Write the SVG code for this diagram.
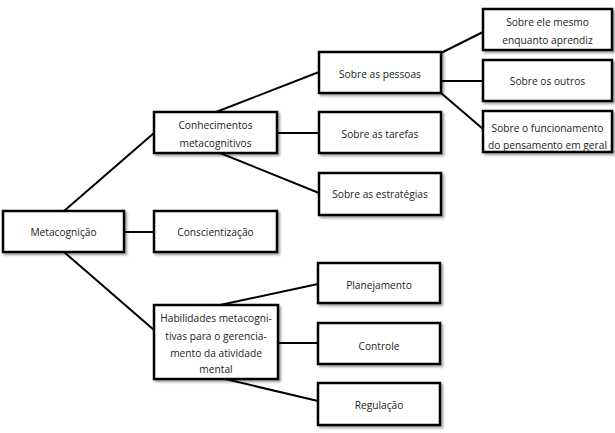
<svg xmlns="http://www.w3.org/2000/svg" width="615" height="433" viewBox="0 0 615 433">
<defs>
<filter id="sh" x="-10%" y="-10%" width="130%" height="140%">
<feDropShadow dx="2" dy="2" stdDeviation="1.2" flood-color="#000" flood-opacity="0.35"/>
</filter>
</defs>
<style>
.box{fill:#fff;stroke:#000;stroke-width:2.5;filter:url(#sh)}
.lbl{font-family:"Open Sans","Noto Sans","Liberation Sans",sans-serif;font-size:10.2px;fill:#222;text-anchor:middle;dominant-baseline:central}
.con line{stroke:#000;stroke-width:2}
</style>
<rect width="615" height="433" fill="#fff"/>
<g class="con">
<line x1="64" y1="211" x2="154" y2="133"/>
<line x1="124" y1="232" x2="154" y2="232"/>
<line x1="64" y1="252" x2="154" y2="330"/>
<line x1="216" y1="112" x2="319" y2="72"/>
<line x1="277" y1="133" x2="319" y2="133"/>
<line x1="220" y1="153" x2="319" y2="193"/>
<line x1="441" y1="53" x2="483" y2="32"/>
<line x1="441" y1="81" x2="483" y2="81"/>
<line x1="441" y1="93" x2="483" y2="129"/>
<line x1="220" y1="305" x2="318" y2="284"/>
<line x1="278" y1="343" x2="318" y2="343"/>
<line x1="225" y1="379" x2="318" y2="401"/>
</g>
<g id="metacognicao"><rect class="box" x="3" y="211" width="121" height="41"/><text class="lbl" x="63.5" y="232">Metacognição</text></g>
<g id="conhecimentos"><rect class="box" x="154" y="112" width="123" height="41"/><text class="lbl" x="215.5" y="124.5">Conhecimentos</text><text class="lbl" x="215.5" y="142.5">metacognitivos</text></g>
<g id="conscientizacao"><rect class="box" x="154" y="211" width="123" height="41"/><text class="lbl" x="215.5" y="232">Conscientização</text></g>
<g id="habilidades"><rect class="box" x="154" y="305" width="124" height="74"/><text class="lbl" x="216" y="318">Habilidades metacogni-</text><text class="lbl" x="216" y="335.5">tivas para o gerencia-</text><text class="lbl" x="216" y="352.5">mento da atividade</text><text class="lbl" x="216" y="369">mental</text></g>
<g id="pessoas"><rect class="box" x="319" y="52" width="122" height="41"/><text class="lbl" x="380" y="73.5">Sobre as pessoas</text></g>
<g id="tarefas"><rect class="box" x="319" y="112" width="122" height="41"/><text class="lbl" x="380" y="133.5">Sobre as tarefas</text></g>
<g id="estrategias"><rect class="box" x="319" y="173" width="122" height="42"/><text class="lbl" x="380" y="194">Sobre as estratégias</text></g>
<g id="ele-mesmo"><rect class="box" x="483" y="9" width="129" height="41"/><text class="lbl" x="547.5" y="21.5">Sobre ele mesmo</text><text class="lbl" x="547.5" y="40">enquanto aprendiz</text></g>
<g id="outros"><rect class="box" x="483" y="60" width="129" height="41"/><text class="lbl" x="547.5" y="80.5">Sobre os outros</text></g>
<g id="funcionamento"><rect class="box" x="483" y="111" width="129" height="41"/><text class="lbl" x="547.5" y="127.5">Sobre o funcionamento</text><text class="lbl" x="547.5" y="145">do pensamento em geral</text></g>
<g id="planejamento"><rect class="box" x="318" y="263" width="122" height="40"/><text class="lbl" x="379" y="284.5">Planejamento</text></g>
<g id="controle"><rect class="box" x="318" y="323" width="122" height="41"/><text class="lbl" x="379" y="345.5">Controle</text></g>
<g id="regulacao"><rect class="box" x="318" y="383" width="122" height="42"/><text class="lbl" x="379" y="404.5">Regulação</text></g>
</svg>
